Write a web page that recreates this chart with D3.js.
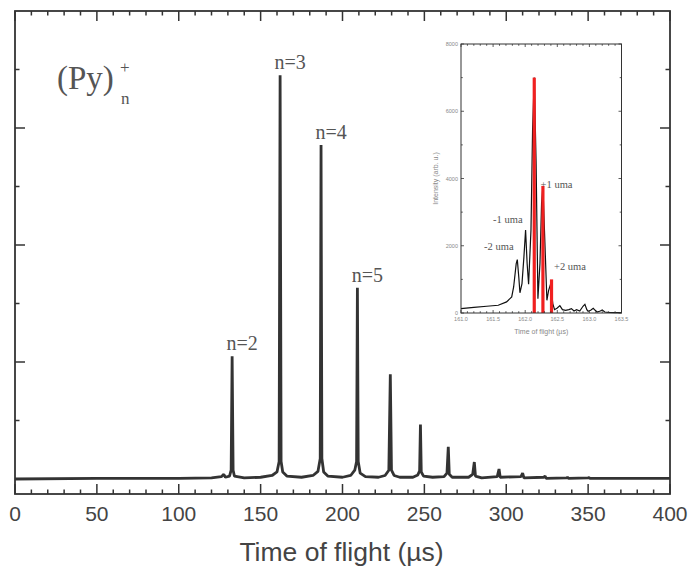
<!DOCTYPE html>
<html>
<head>
<meta charset="utf-8">
<script src="https://cdn.jsdelivr.net/npm/d3@7"></script>
<style>
  body { margin: 0; background: #fff; }
  svg { display: block; }
</style>
</head>
<body>
<svg id="chart" width="688" height="570"></svg>
<script>
// main spectrum trace, time of flight (µs) vs intensity (arb. units, y ticks 0..8)
const tof = [0, 50, 100, 120, 126, 127.5, 128.5, 131, 132, 132.6, 133.2, 134, 140, 150, 157, 160, 161.3, 161.9, 162.5, 163.5, 166, 175, 182, 185, 186.4, 186.9, 187.4, 188.5, 191, 200, 205, 207.5, 208.6, 209.1, 209.6, 210.8, 214, 222, 226, 228.3, 229.2, 229.9, 231.5, 235, 243, 246, 247.1, 247.6, 248.1, 249.5, 255, 262, 263.8, 264.6, 265.2, 267, 277, 279.5, 280.5, 281.2, 285, 294.5, 295.6, 296.3, 309, 310, 310.8, 323, 323.7, 324.4, 337, 337.4, 338, 350, 350.5, 351, 400];
const intensity = [0, 0.01, 0.01, 0.02, 0.04, 0.08, 0.03, 0.05, 0.15, 2.10, 0.15, 0.05, 0.02, 0.03, 0.06, 0.12, 0.3, 6.9, 0.3, 0.12, 0.05, 0.03, 0.06, 0.13, 0.35, 5.71, 0.35, 0.12, 0.05, 0.03, 0.06, 0.15, 0.3, 3.27, 0.3, 0.1, 0.04, 0.03, 0.06, 0.15, 1.79, 0.15, 0.06, 0.03, 0.03, 0.07, 0.14, 0.93, 0.12, 0.05, 0.03, 0.04, 0.1, 0.55, 0.08, 0.03, 0.03, 0.08, 0.29, 0.05, 0.02, 0.04, 0.17, 0.03, 0.04, 0.10, 0.02, 0.03, 0.05, 0.01, 0.02, 0.03, 0.01, 0.02, 0.025, 0.01, 0.01];

// cluster labels
const clusterLabels = ["n=2", "n=3", "n=4", "n=5"];
const clusterTof = [132.6, 161.9, 186.9, 209.1];
const clusterHeight = [2.10, 6.9, 5.71, 3.27];

const xTicks = [0, 50, 100, 150, 200, 250, 300, 350, 400];

// inset: zoom on the n=3 peak
const insetTof = [161.0, 161.2, 161.4, 161.58, 161.71, 161.79, 161.82, 161.86, 161.877, 161.9, 161.918, 161.95, 161.98, 162.006, 162.03, 162.053, 162.09, 162.115, 162.141, 162.17, 162.198, 162.23, 162.255, 162.276, 162.3, 162.338, 162.365, 162.395, 162.43, 162.457, 162.5, 162.54, 162.58, 162.63, 162.68, 162.72, 162.76, 162.8, 162.85, 162.9, 162.93, 162.96, 162.98, 163.02, 163.06, 163.09, 163.12, 163.17, 163.2, 163.24, 163.3, 163.4, 163.5];
const insetIntensity = [130, 170, 200, 230, 330, 480, 775, 1470, 1590, 1070, 600, 875, 1670, 2465, 1470, 855, 2465, 5450, 7000, 4450, 427, 1470, 3260, 3776, 2465, 378, 676, 855, 280, 100, 150, 220, 100, 80, 100, 130, 60, 100, 60, 200, 260, 100, 50, 80, 140, 80, 30, 60, 90, 30, 20, 10, 10];
const isotopeTof = [162.141, 162.276, 162.410];
const isotopeIntensity = [7000, 3780, 1000];
const isotopeLabels = ["-2 uma", "-1 uma", "+1 uma", "+2 uma"];
const isotopeLabelTof = [161.36, 161.50, 162.24, 162.45];
const isotopeLabelInt = [1870, 2680, 3720, 1280];
const insetXTicks = [161.0, 161.5, 162.0, 162.5, 163.0, 163.5];
const insetYTicks = [0, 2000, 4000, 6000, 8000];

const svg = d3.select("#chart");
const ink = "#333";

// ---- main plot ----
const frame = {left: 15, right: 670, top: 11, bottom: 494};
const x = d3.scaleLinear().domain([0, 400]).range([frame.left, frame.right]);
const y = d3.scaleLinear().domain([0, 8]).range([479, 11]);

const line = d3.line()
    .x((d, i) => x(tof[i]))
    .y(d => y(d));

svg.append("path")
    .datum(intensity)
    .attr("d", line)
    .attr("fill", "none")
    .attr("stroke", ink)
    .attr("stroke-width", 2.8)
    .attr("stroke-linejoin", "bevel");

// ticks, pointing inward on all four sides
const xMinor = d3.range(0, 401, 10);
svg.append("g").selectAll("line.xb")
    .data(xMinor).join("line")
    .attr("x1", d => x(d)).attr("x2", d => x(d))
    .attr("y1", frame.bottom).attr("y2", d => frame.bottom - (d % 50 === 0 ? 10 : 4.5))
    .attr("stroke", ink).attr("stroke-width", 1.5);
svg.append("g").selectAll("line.xt")
    .data(xMinor).join("line")
    .attr("x1", d => x(d)).attr("x2", d => x(d))
    .attr("y1", frame.top).attr("y2", d => frame.top + (d % 50 === 0 ? 10 : 4.5))
    .attr("stroke", ink).attr("stroke-width", 1.5);

const yTicks = [1, 2, 3, 4, 5, 6, 7];
svg.append("g").selectAll("line.yl")
    .data(yTicks).join("line")
    .attr("x1", frame.left).attr("x2", d => frame.left + (d % 2 === 0 ? 10 : 4.5))
    .attr("y1", d => y(d)).attr("y2", d => y(d))
    .attr("stroke", ink).attr("stroke-width", 1.5);
svg.append("g").selectAll("line.yr")
    .data(yTicks).join("line")
    .attr("x1", frame.right).attr("x2", d => frame.right - (d % 2 === 0 ? 10 : 4.5))
    .attr("y1", d => y(d)).attr("y2", d => y(d))
    .attr("stroke", ink).attr("stroke-width", 1.5);

svg.append("rect")
    .attr("x", frame.left).attr("y", frame.top)
    .attr("width", frame.right - frame.left).attr("height", frame.bottom - frame.top)
    .attr("fill", "none").attr("stroke", ink).attr("stroke-width", 1.8);

svg.append("g").selectAll("text")
    .data(xTicks).join("text")
    .attr("x", d => x(d)).attr("y", 521)
    .attr("text-anchor", "middle")
    .attr("font-family", "Liberation Sans, Arial, sans-serif")
    .attr("font-size", 21)
    .attr("fill", "#444")
    .text(d => d);

svg.append("text")
    .attr("x", x(200) - 1).attr("y", 561)
    .attr("text-anchor", "middle")
    .attr("font-family", "Liberation Sans, Arial, sans-serif")
    .attr("font-size", 26.5)
    .attr("fill", "#444")
    .text("Time of flight (µs)");

svg.append("g").selectAll("text")
    .data(clusterLabels).join("text")
    .attr("x", (d, i) => x(clusterTof[i]) + 10)
    .attr("y", (d, i) => y(clusterHeight[i]) - 6)
    .attr("text-anchor", "middle")
    .attr("font-family", "Liberation Serif, Times New Roman, serif")
    .attr("font-size", 20)
    .attr("fill", "#555")
    .text(d => d);

const py = svg.append("text")
    .attr("x", 57).attr("y", 89)
    .attr("font-family", "Liberation Serif, Times New Roman, serif")
    .attr("font-size", 33)
    .attr("fill", "#555");
py.append("tspan").text("(Py)");
py.append("tspan").attr("x", 120).attr("y", 73).attr("font-size", 17).text("+");
py.append("tspan").attr("x", 121).attr("y", 104).attr("font-size", 17).text("n");

// ---- inset ----
const ix = d3.scaleLinear().domain([161.0, 163.5]).range([461, 621.5]);
const iy = d3.scaleLinear().domain([0, 8000]).range([313, 44]);
const inset = svg.append("g");

inset.append("path")
    .datum(insetIntensity)
    .attr("d", d3.line().x((d, i) => ix(insetTof[i])).y(d => iy(d)))
    .attr("fill", "none").attr("stroke", "#111").attr("stroke-width", 1.2);

inset.append("g").selectAll("line")
    .data(isotopeTof).join("line")
    .attr("x1", d => ix(d)).attr("x2", d => ix(d))
    .attr("y1", iy(0)).attr("y2", (d, i) => iy(isotopeIntensity[i]))
    .attr("stroke", "#f02020").attr("stroke-width", 3.2);

const ixMinor = d3.range(0, 26).map(i => 161 + i * 0.1);
inset.append("g").selectAll("line.b")
    .data(ixMinor).join("line")
    .attr("x1", d => ix(d)).attr("x2", d => ix(d))
    .attr("y1", iy(0)).attr("y2", (d, i) => iy(0) - (i % 5 === 0 ? 3 : 1.8))
    .attr("stroke", ink).attr("stroke-width", 0.8);
inset.append("g").selectAll("line.t")
    .data(ixMinor).join("line")
    .attr("x1", d => ix(d)).attr("x2", d => ix(d))
    .attr("y1", iy(8000)).attr("y2", (d, i) => iy(8000) + (i % 5 === 0 ? 3 : 1.8))
    .attr("stroke", ink).attr("stroke-width", 0.8);
const iyMinor = d3.range(0, 8001, 1000);
inset.append("g").selectAll("line.l")
    .data(iyMinor).join("line")
    .attr("x1", ix(161)).attr("x2", d => ix(161) + (d % 2000 === 0 ? 3 : 1.8))
    .attr("y1", d => iy(d)).attr("y2", d => iy(d))
    .attr("stroke", ink).attr("stroke-width", 0.8);
inset.append("g").selectAll("line.r")
    .data(iyMinor).join("line")
    .attr("x1", ix(163.5)).attr("x2", d => ix(163.5) - (d % 2000 === 0 ? 3 : 1.8))
    .attr("y1", d => iy(d)).attr("y2", d => iy(d))
    .attr("stroke", ink).attr("stroke-width", 0.8);

inset.append("rect")
    .attr("x", ix(161)).attr("y", iy(8000))
    .attr("width", ix(163.5) - ix(161)).attr("height", iy(0) - iy(8000))
    .attr("fill", "none").attr("stroke", ink).attr("stroke-width", 1);

inset.append("g").selectAll("text")
    .data(insetXTicks).join("text")
    .attr("x", d => ix(d)).attr("y", 321)
    .attr("text-anchor", "middle")
    .attr("font-family", "Liberation Sans, Arial, sans-serif")
    .attr("font-size", 5.5).attr("fill", "#888")
    .text(d => d.toFixed(1));
inset.append("g").selectAll("text.y")
    .data(insetYTicks).join("text")
    .attr("x", ix(161) - 3).attr("y", d => iy(d) + 2)
    .attr("text-anchor", "end")
    .attr("font-family", "Liberation Sans, Arial, sans-serif")
    .attr("font-size", 5.5).attr("fill", "#888")
    .text(d => d);
inset.append("text")
    .attr("x", ix(162.25)).attr("y", 334)
    .attr("text-anchor", "middle")
    .attr("font-family", "Liberation Sans, Arial, sans-serif")
    .attr("font-size", 7).attr("fill", "#888")
    .text("Time of flight (µs)");
inset.append("text")
    .attr("transform", `translate(438,${iy(4000)}) rotate(-90)`)
    .attr("text-anchor", "middle")
    .attr("font-family", "Liberation Sans, Arial, sans-serif")
    .attr("font-size", 7).attr("fill", "#888")
    .text("Intensity (arb. u.)");

inset.append("g").selectAll("text")
    .data(isotopeLabels).join("text")
    .attr("x", (d, i) => ix(isotopeLabelTof[i]))
    .attr("y", (d, i) => iy(isotopeLabelInt[i]))
    .attr("font-family", "Liberation Serif, Times New Roman, serif")
    .attr("font-size", 10.5).attr("fill", "#555")
    .text(d => d);
</script>
</body>
</html>
